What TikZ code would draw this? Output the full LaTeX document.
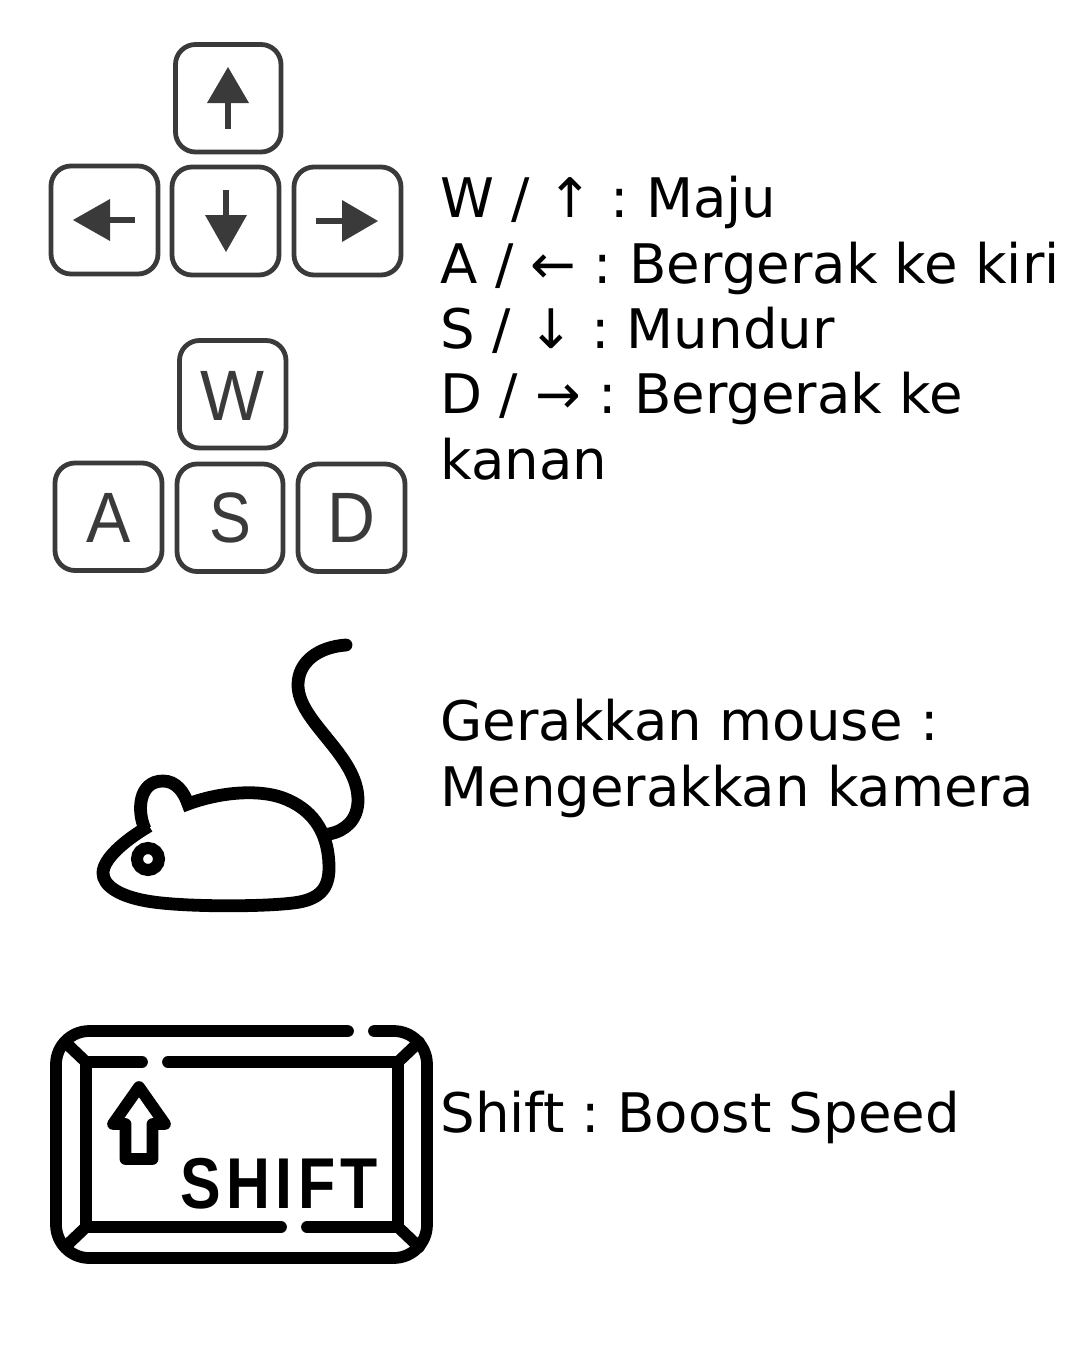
\documentclass[tikz,border=0pt]{standalone}
\usepackage{fontspec}
\usepackage{graphicx}
\setmainfont{DejaVu Sans}
\newfontfamily\keyfont{Liberation Sans}
\newfontfamily\shiftfont[LetterSpace=9]{Liberation Sans}
\definecolor{keyink}{HTML}{3A3A3A}
\tikzset{
  x=0.75pt,y=-0.75pt,
  keybox/.style={draw=keyink,line width=3.6pt,rounded corners=15pt},
  arrowhead/.style={fill=keyink,draw=none},
  arrowstem/.style={draw=keyink,line width=4pt},
  icon/.style={draw=black,line width=8.8pt,line cap=round,line join=round},
  mouseline/.style={draw=black,line width=9.6pt,line join=miter},
  label/.style={anchor=base west,inner sep=0pt,outer sep=0pt,font=\fontsize{40.9pt}{49pt}\selectfont\frenchspacing,text=black},
  keyletter/.style={anchor=base,inner sep=0pt,font=\keyfont\fontsize{53.5pt}{54pt}\selectfont,text=keyink}
}
\begin{document}
\begin{tikzpicture}
\useasboundingbox (0,0) rectangle (1080,1350);
% arrow keys
\draw[keybox] (175.5,44.5) rectangle (281,152);
\draw[keybox] (51,166) rectangle (158,274);
\draw[keybox] (172,167) rectangle (279,275);
\draw[keybox] (294,167) rectangle (401,275);
\fill[arrowhead] (228,67) -- (249,103) -- (207,103) -- cycle;
\draw[arrowstem] (228,100) -- (228,129);
\fill[arrowhead] (73,220) -- (110,199) -- (110,241) -- cycle;
\draw[arrowstem] (107,220) -- (135,220);
\fill[arrowhead] (226,252) -- (205,215) -- (247,215) -- cycle;
\draw[arrowstem] (226,218) -- (226,190);
\fill[arrowhead] (378,221) -- (342,200) -- (342,242) -- cycle;
\draw[arrowstem] (345,221) -- (316,221);
% WASD
\draw[keybox] (179.5,340.5) rectangle (286,448);
\draw[keybox] (55,463) rectangle (162,570.5);
\draw[keybox] (177,464) rectangle (283,571.5);
\draw[keybox] (298,464) rectangle (405,571.5);
\node[keyletter] (keyw) at (232,420) {\scalebox{0.95}[1]{W}};
\node[keyletter] (keya) at (109,542) {\scalebox{0.93}[1]{A}};
\node[keyletter] (keys) at (230,542) {\scalebox{0.88}[1]{S}};
\node[keyletter] (keyd) at (351,542) {\scalebox{0.93}[1]{D}};
% mouse
\draw[mouseline]
  (145,829) .. controls (137,812) and (138,781) .. (163,781)
  .. controls (176,781) and (184,792) .. (188,804)
  .. controls (220,792) and (262,788) .. (288,800)
  .. controls (315,812) and (329,835) .. (329,868)
  .. controls (329,890) and (318,900) .. (293,903)
  .. controls (260,907) and (180,907) .. (147,901)
  .. controls (118,896) and (103,885) .. (103,873)
  .. controls (103,860) and (122,842) .. (149,826);
\draw[line width=9pt,draw=black] (148,859) circle (11);
\draw[mouseline,line cap=round] (346,645)
  .. controls (318,647) and (298,662) .. (298,685)
  .. controls (298,722) and (358,755) .. (358,800)
  .. controls (358,820) and (345,831) .. (329,834);
% shift key
\draw[icon,rounded corners=25pt] (348,1031) -- (56,1031) -- (56,1258) -- (427,1258) -- (427,1031) -- (374,1031);
\draw[icon] (142,1062) -- (86,1062) -- (86,1227) -- (281,1227);
\draw[icon] (168,1062) -- (398,1062) -- (398,1227) -- (307,1227);
\draw[icon] (65,1042) -- (86,1062);
\draw[icon] (419,1042) -- (398,1062);
\draw[icon] (65,1247) -- (86,1227);
\draw[icon] (419,1247) -- (398,1227);
\draw[icon] (139,1087) -- (113,1124) -- (125.5,1124) -- (125.5,1159) -- (152.5,1159) -- (152.5,1124) -- (165,1124) -- cycle;
\node[anchor=base west,inner sep=0pt,font=\shiftfont\bfseries\fontsize{54pt}{54pt}\selectfont] (shiftword) at (180,1208) {\scalebox{0.845}[1]{SHIFT}};
% texts
\node[label] (l1) at (440.5,217) {W / ↑ : Maju};
\node[label] (l2) at (440.5,283) {A / ← : Bergerak ke kiri};
\node[label] (l3) at (440.5,348) {S / ↓ : Mundur};
\node[label] (l4) at (440.5,413) {D / → : Bergerak ke};
\node[label] (l5) at (440.5,479) {kanan};
\node[label] (l6) at (440.5,740) {Gerakkan mouse :};
\node[label] (l7) at (440.5,806) {Mengerakkan kamera};
\node[label] (l8) at (440.5,1132) {Shift : Boost Speed};
\end{tikzpicture}
\end{document}
